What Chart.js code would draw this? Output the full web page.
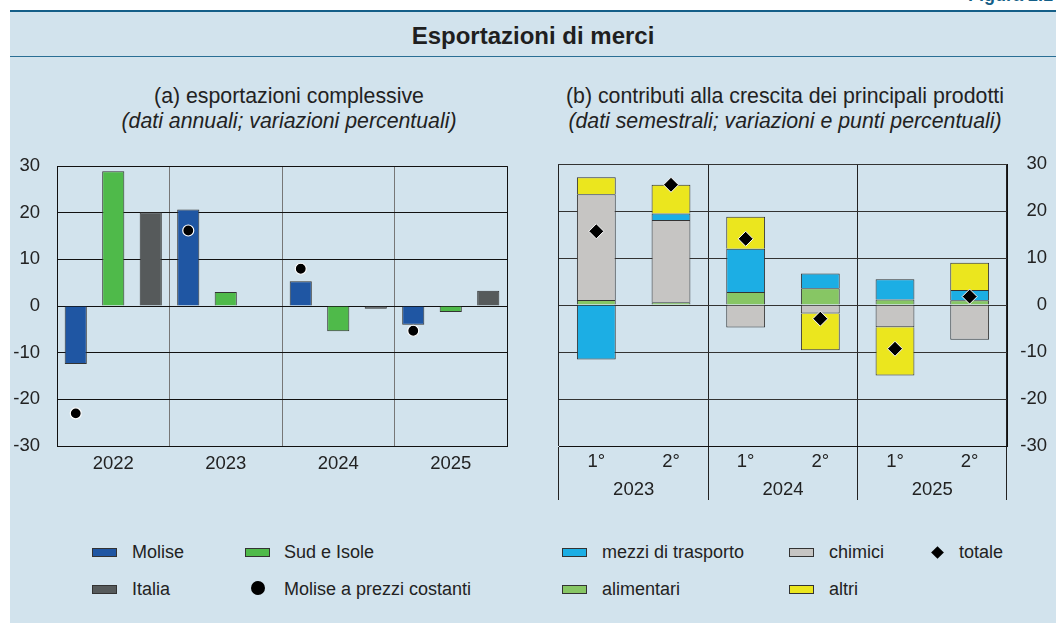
<!DOCTYPE html>
<html lang="it">
<head>
<meta charset="utf-8">
<title>Esportazioni di merci</title>
<script src="https://cdn.jsdelivr.net/npm/chart.js@4.4.1/dist/chart.umd.min.js"></script>
<style>
  body { margin: 0; width: 1056px; height: 623px; overflow: hidden; background: #fff;
         font-family: "Liberation Sans", Arial, sans-serif; color: #222; position: relative; }
  #panel { position: absolute; left: 10px; top: 10px; width: 1046px; height: 613px;
           background: #d2e3ed; border-top: 2px solid #145f88; box-sizing: border-box; }
  #fig { position: absolute; left: 968px; top: -15px; font-weight: bold; font-size: 18px; color: #145f88; white-space: nowrap; }
  #title { position: absolute; left: 10px; top: 12px; width: 1046px; height: 45px; box-sizing: border-box;
           border-bottom: 1px solid #2a6f95; text-align: center; line-height: 48px;
           font-weight: bold; font-size: 24px; color: #1f1f1f; }
  .sub { position: absolute; text-align: center; font-size: 21.3px; line-height: 25px; white-space: nowrap; }
  .sub i { display: block; }
  canvas { position: absolute; }
  .leg { position: absolute; font-size: 18px; line-height: 20px; white-space: nowrap; }
  .sw { position: absolute; width: 25px; height: 9px; box-sizing: border-box; border: 1px solid #333; }
  .dot { position: absolute; width: 14px; height: 14px; border-radius: 50%; background: #000; }
  .dia { position: absolute; width: 9px; height: 9px; background: #000; transform: rotate(45deg); }
</style>
</head>
<body>
<div id="fig">Figura 2.1</div>
<div id="panel"></div>
<div id="title">Esportazioni di merci</div>

<div class="sub" style="left:39px; width:500px; top:84px;">(a) esportazioni complessive<i>(dati annuali; variazioni percentuali)</i></div>
<div class="sub" style="left:535px; width:500px; top:84px;">(b) contributi alla crescita dei principali prodotti<i>(dati semestrali; variazioni e punti percentuali)</i></div>

<canvas id="chartA" width="530" height="352" style="left:0; top:138px;"></canvas>
<canvas id="chartB" width="526" height="382" style="left:530px; top:138px;"></canvas>

<!-- legenda (a) -->
<div class="sw" style="left:92px; top:548px; background:#1f56a3;"></div>
<div class="leg" style="left:132px; top:542px;">Molise</div>
<div class="sw" style="left:245px; top:548px; background:#4fba4a;"></div>
<div class="leg" style="left:284px; top:542px;">Sud e Isole</div>
<div class="sw" style="left:92px; top:585px; background:#565a5b;"></div>
<div class="leg" style="left:132px; top:579px;">Italia</div>
<div class="dot" style="left:251px; top:581px;"></div>
<div class="leg" style="left:284px; top:579px;">Molise a prezzi costanti</div>

<!-- legenda (b) -->
<div class="sw" style="left:562px; top:548px; background:#1caee4;"></div>
<div class="leg" style="left:602px; top:542px;">mezzi di trasporto</div>
<div class="sw" style="left:789px; top:548px; background:#c6c5c3;"></div>
<div class="leg" style="left:829px; top:542px;">chimici</div>
<div class="dia" style="left:933px; top:548px;"></div>
<div class="leg" style="left:959px; top:542px;">totale</div>
<div class="sw" style="left:562px; top:585px; background:#87c664;"></div>
<div class="leg" style="left:602px; top:579px;">alimentari</div>
<div class="sw" style="left:789px; top:585px; background:#ebe61e;"></div>
<div class="leg" style="left:829px; top:579px;">altri</div>

<script>
// dati pannello (a): variazioni percentuali annue
var anni = ['2022', '2023', '2024', '2025'];
var molise = [-12.4, 20.7, 5.3, -4.0];
var sudIsole = [28.9, 3.0, -5.4, -1.3];
var italia = [20.1, 0.1, -0.6, 3.3];
var moliseCostanti = [-23.0, 16.2, 8.0, -5.3];

// dati pannello (b): contributi semestrali
var semestri = ['1°', '2°', '1°', '2°', '1°', '2°'];
var anniSem = ['2023', '2024', '2025'];
var alimentari = [1.1, 0.6, 2.8, 3.6, 1.2, 1.0];
var chimici = [22.5, 17.5, -4.8, -1.8, -4.7, -7.4];
var mezzi = [-11.6, 1.4, 9.2, 3.1, 4.3, 2.2];
var altri = [3.6, 6.1, 6.8, -7.8, -10.3, 5.8];
var totale = [15.7, 25.6, 14.1, -2.9, -9.3, 1.8];

var yTicks = [-30, -20, -10, 0, 10, 20, 30];

Chart.defaults.font.family = '"Liberation Sans", Arial, sans-serif';
Chart.defaults.font.size = 18.5;
Chart.defaults.color = '#222';

function setTicks(scale) {
    scale.ticks = yTicks.map(function (v) { return { value: v }; });
}

// tre posizioni per anno (una per serie); il punto a prezzi costanti sta sulla posizione di Molise
var posizioni = [];
anni.forEach(function (a) { for (var k = 0; k < 3; k++) posizioni.push(a + '-' + k); });
function inPosizione(valori, k) {
    return valori.map(function (v, i) { return { x: anni[i] + '-' + k, y: v }; });
}

var barA = { xAxisID: 'xs', grouped: false, categoryPercentage: 1, barPercentage: 0.59,
             borderWidth: 1, borderColor: '#333', order: 1 };

new Chart(document.getElementById('chartA'), {
    type: 'bar',
    data: {
        labels: posizioni,
        datasets: [
            {
                type: 'line', label: 'Molise a prezzi costanti', data: inPosizione(moliseCostanti, 0), xAxisID: 'xs',
                showLine: false, pointRadius: 5.5, pointBackgroundColor: '#000',
                pointBorderColor: '#fff', pointBorderWidth: 1.2, order: 0
            },
            Object.assign({ label: 'Molise', data: inPosizione(molise, 0), backgroundColor: '#1f56a3' }, barA),
            Object.assign({ label: 'Sud e Isole', data: inPosizione(sudIsole, 1), backgroundColor: '#4fba4a' }, barA),
            Object.assign({ label: 'Italia', data: inPosizione(italia, 2), backgroundColor: '#565a5b' }, barA)
        ]
    },
    options: {
        responsive: false,
        animation: false,
        devicePixelRatio: 1,
        layout: { padding: { top: 3, right: 23, left: 0, bottom: 0 } },
        plugins: { legend: { display: false }, tooltip: { enabled: false } },
        scales: {
            x: {
                type: 'category', labels: anni, offset: true,
                grid: {
                    offset: true, drawTicks: false,
                    color: function (c) { return (c.type !== 'tick' || c.index === 0) ? '#111' : '#777'; }
                },
                border: { color: '#111' },
                ticks: { padding: 7 },
                afterFit: function (s) { s.height = 44; }
            },
            xs: { type: 'category', labels: posizioni, offset: true, display: false },
            y: {
                min: -30, max: 30,
                afterBuildTicks: setTicks,
                grid: { color: '#111', drawTicks: false },
                border: { color: '#111' },
                ticks: { padding: 17 },
                afterFit: function (s) { s.width = 57; }
            }
        }
    }
});

var barB = { categoryPercentage: 1, barPercentage: 0.52, borderWidth: 1, borderColor: '#333', order: 1 };

new Chart(document.getElementById('chartB'), {
    type: 'bar',
    data: {
        labels: semestri,
        datasets: [
            {
                type: 'line', label: 'totale', data: totale, stack: 'tot',
                showLine: false, pointStyle: 'rectRot', pointRadius: 7.5, pointBackgroundColor: '#000',
                pointBorderColor: '#fff', pointBorderWidth: 1, order: 0
            },
            Object.assign({ label: 'alimentari', data: alimentari, backgroundColor: '#87c664' }, barB),
            Object.assign({ label: 'chimici', data: chimici, backgroundColor: '#c6c5c3' }, barB),
            Object.assign({ label: 'mezzi di trasporto', data: mezzi, backgroundColor: '#1caee4' }, barB),
            Object.assign({ label: 'altri', data: altri, backgroundColor: '#ebe61e' }, barB)
        ]
    },
    options: {
        responsive: false,
        animation: false,
        devicePixelRatio: 1,
        layout: { padding: { top: 3, right: 9, left: 29, bottom: 0 } },
        plugins: { legend: { display: false }, tooltip: { enabled: false } },
        scales: {
            x: {
                stacked: true,
                grid: {
                    offset: true, drawTicks: true, tickLength: 54,
                    color: function (c) { return (c.type !== 'tick' || c.index % 2 === 0) ? '#222' : 'rgba(0,0,0,0)'; }
                },
                border: { color: '#111' },
                ticks: { padding: -49 },
                afterFit: function (s) { s.height = 26; }
            },
            x2: {
                type: 'category', labels: anniSem, offset: true, position: 'bottom',
                grid: { display: false }, border: { display: false },
                ticks: { padding: -1 },
                afterFit: function (s) { s.height = 48; }
            },
            y: {
                position: 'right', stacked: true, min: -30, max: 30,
                afterBuildTicks: setTicks,
                grid: { color: '#333', drawTicks: false },
                border: { color: '#111' },
                ticks: { padding: 15, crossAlign: 'far' },
                afterFit: function (s) { s.width = 40; }
            }
        }
    }
});
</script>
</body>
</html>
